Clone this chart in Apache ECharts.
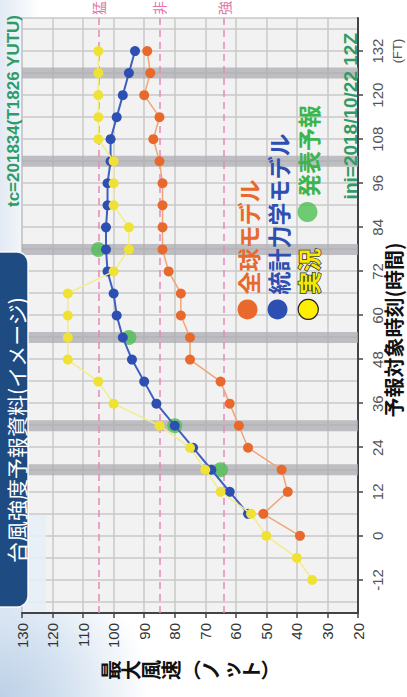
<!DOCTYPE html>
<html>
<head>
<meta charset="utf-8">
<script src="https://cdn.jsdelivr.net/npm/echarts@6/dist/echarts.min.js"></script>
<style>
  html, body { margin: 0; padding: 0; width: 407px; height: 697px; overflow: hidden; background: #ffffff; }
  /* the chart is laid out landscape and turned a quarter turn counter-clockwise */
  #wrap {
    position: absolute; left: 0; top: 0; width: 697px; height: 407px;
    transform-origin: 0 0; transform: translate(0, 697px) rotate(-90deg);
    background:
      radial-gradient(circle at 0 0, #bcd0e7 0, #d6e3f1 70px, rgba(255,255,255,0) 150px),
      linear-gradient(to bottom, #e2eaf4 0, #ffffff 40px);
  }
  #chart { width: 697px; height: 407px; }
</style>
</head>
<body>
<div id="wrap"><div id="chart"></div></div>
<script>
// forecast time (hours) and maximum wind (knots) for each source
const hoursObserved = [-12, -6, 0, 6, 12, 18, 24, 30, 36, 42, 48, 54, 60, 66, 72, 78, 84, 90, 96, 102, 108, 114, 120, 126, 132];
const windObserved  = [35, 40, 50, 55, 65, 70, 75, 85, 100, 105, 115, 115, 115, 115, 100, 95, 95, 100, 100, 100, 105, 105, 105, 105, 105];

const hoursGlobal = [0, 6, 12, 18, 24, 30, 36, 42, 48, 54, 60, 66, 72, 78, 84, 90, 96, 102, 108, 114, 120, 126, 132];
const windGlobal  = [39, 51, 43, 45, 56, 59, 62, 65, 75, 75, 78, 78, 82, 84, 84, 84, 84, 85, 87, 85, 90, 88, 89];

const hoursStat = [6, 12, 18, 24, 30, 36, 42, 48, 54, 60, 66, 72, 78, 84, 90, 96, 102, 108, 114, 120, 126, 132];
const windStat  = [56, 62, 68, 74, 80, 86, 90, 94, 97, 99, 100, 102, 102.5, 102.5, 102, 102, 101, 101, 99, 97, 95, 93];

const hoursIssued = [18, 30, 54, 78];
const windIssued  = [65, 80, 95, 105];

// issue times highlighted with grey bands
const bandHours = [18, 30, 54, 78, 102, 126];

// intensity class thresholds (knots)
const classLevels = [105, 85, 64];
const classLabels = ['猛', '非', '強'];

// time axis labels and grid
const timeLabels = [-12, 0, 12, 24, 36, 48, 60, 72, 84, 96, 108, 120, 132];
const timeGrid = [-18, -12, -6, 0, 6, 12, 18, 24, 30, 36, 42, 48, 54, 60, 66, 72, 78, 84, 90, 96, 102, 108, 114, 120, 126, 132, 138];

const seriesNames = ['全球モデル', '統計力学モデル', '実況', '発表予報'];
const seriesColors = ['#e8692b', '#2d4fb2', '#efe234', '#4cbf52'];

const zip = (xs, ys) => xs.map((x, i) => [x, ys[i]]);

const digitFont = 'Liberation Sans, Arial, sans-serif';
const jpFont = 'Noto Sans CJK JP, sans-serif';
const narrowFont = 'Liberation Sans Narrow, Liberation Sans, Arial, sans-serif';

const chart = echarts.init(document.getElementById('chart'), null, { renderer: 'svg', width: 697, height: 407 });

function label(text, x, y, align, font, fill, extra) {
  return {
    type: 'text', z: 60, silent: true, x: x, y: y,
    style: Object.assign({
      text: text, x: 0, y: 0,
      textAlign: align, textVerticalAlign: 'middle', align: align, verticalAlign: 'middle',
      fill: fill, font: font
    }, extra || {})
  };
}

const option = {
  animation: false,
  backgroundColor: 'transparent',
  grid: {
    left: 84, right: 18, top: 22, bottom: 49,
    show: true, backgroundColor: '#f2f2f2', borderColor: '#c8c8c8', borderWidth: 1.5
  },
  xAxis: [
    {
      type: 'value', min: -21, max: 141, position: 'bottom',
      axisLine: { show: true, onZero: false, lineStyle: { color: '#444', width: 2 } },
      axisTick: { show: false, customValues: timeGrid },
      axisLabel: { show: false, customValues: timeGrid },
      splitLine: { show: true, lineStyle: { color: '#c8c8c8', width: 1.5 } }
    },
    {
      type: 'value', min: -21, max: 141, position: 'bottom',
      axisLine: { show: false, onZero: false },
      axisTick: { show: true, length: 5, customValues: timeLabels, lineStyle: { color: '#444', width: 1.5 } },
      axisLabel: {
        customValues: timeLabels, margin: 9, fontSize: 15, lineHeight: 20,
        color: '#555', fontFamily: digitFont,
        formatter: v => v === 132 ? '132\n{ft|(FT)}' : String(v),
        rich: { ft: { fontSize: 13, lineHeight: 20, color: '#555', fontFamily: digitFont } }
      },
      splitLine: { show: false }
    }
  ],
  yAxis: {
    type: 'value', min: 20, max: 130, interval: 10,
    axisLine: { show: true, onZero: false, lineStyle: { color: '#444', width: 2 } },
    axisTick: { show: true, length: 5, lineStyle: { color: '#444', width: 1.5 } },
    axisLabel: { margin: 10, fontSize: 15, color: '#333', fontFamily: digitFont },
    splitLine: { show: true, lineStyle: { color: '#c8c8c8', width: 1.5 } }
  },
  legend: [
    {
      orient: 'vertical', left: 377, top: 236, padding: 0,
      icon: 'circle', itemWidth: 20, itemHeight: 20, itemGap: 7, selectedMode: false,
      textStyle: { fontSize: 23, fontWeight: 'bold', fontFamily: jpFont },
      data: [
        { name: seriesNames[0], textStyle: { color: seriesColors[0] } },
        { name: seriesNames[1], textStyle: { color: seriesColors[1] } },
        { name: seriesNames[2], textStyle: { color: '#f7e800', textBorderColor: '#333', textBorderWidth: 1.5 },
          itemStyle: { color: '#ffee00', borderColor: '#222', borderWidth: 1.2 } }
      ]
    },
    {
      orient: 'vertical', left: 475, top: 296, padding: 0,
      icon: 'circle', itemWidth: 20, itemHeight: 20, selectedMode: false,
      textStyle: { fontSize: 23, fontWeight: 'bold', fontFamily: jpFont },
      data: [{ name: seriesNames[3], textStyle: { color: '#3cb54e' } }]
    }
  ],
  series: [
    {
      name: seriesNames[0], type: 'line', z: 3,
      data: zip(hoursGlobal, windGlobal),
      symbol: 'circle', symbolSize: 10,
      itemStyle: { color: seriesColors[0] },
      lineStyle: { color: '#f0a575', width: 1.5 },
      markArea: {
        silent: true,
        itemStyle: { color: 'rgba(172,172,178,0.75)' },
        data: bandHours.map(h => [{ xAxis: h - 1.5 }, { xAxis: h + 1.5 }])
      },
      markLine: {
        silent: true, symbol: 'none', z: 2,
        lineStyle: { color: '#e58bb8', width: 1.5, type: [7, 5] },
        label: { position: 'end', distance: 3, fontSize: 14, color: '#e673a9', fontFamily: jpFont },
        data: classLevels.map((v, i) => ({ yAxis: v, label: { formatter: classLabels[i] } }))
      }
    },
    {
      name: seriesNames[3], type: 'scatter', z: 4,
      data: zip(hoursIssued, windIssued),
      symbol: 'circle', symbolSize: 15,
      itemStyle: { color: seriesColors[3] }
    },
    {
      name: seriesNames[1], type: 'line', z: 5,
      data: zip(hoursStat, windStat),
      symbol: 'circle', symbolSize: 10,
      itemStyle: { color: seriesColors[1] },
      lineStyle: { color: '#3f5fbf', width: 2 }
    },
    {
      name: seriesNames[2], type: 'line', z: 6,
      data: zip(hoursObserved, windObserved),
      symbol: 'circle', symbolSize: 10,
      itemStyle: { color: seriesColors[2] },
      lineStyle: { color: '#f3ec8a', width: 1.5 }
    }
  ],
  graphic: {
    elements: [
      {
        type: 'rect', z: 50, silent: true,
        shape: { x: 86, y: 24, width: 96, height: 22 },
        style: { fill: 'rgba(232,239,247,0.85)' }
      },
      {
        type: 'rect', z: 100, silent: true,
        shape: { x: 90, y: -14, width: 355, height: 42, r: 11 },
        style: { fill: '#1d4b82', stroke: 'rgba(255,255,255,0.9)', lineWidth: 1.5 }
      },
      Object.assign(label('台風強度予報資料(イメージ)', 267, 16, 'center', '21px ' + jpFont, '#ffffff'), { z: 101 }),
      label('tc=201834(T1826 YUTU)', 682, 13, 'right', 'bold 17px ' + narrowFont, '#2f9c66'),
      label('ini=2018/10/22 12Z', 664, 350, 'right', 'bold 19px ' + narrowFont, '#2f9c66'),
      label('予報対象時刻(時間)', 367, 393, 'center', 'bold 20px ' + jpFont, '#111'),
      label('最\n大\n風\n速\n︵\nノ\nッ\nト\n︶', 27, 190, 'center', 'bold 20px ' + jpFont, '#111', { lineHeight: 20 })
    ]
  }
};

chart.setOption(option);
</script>
</body>
</html>
